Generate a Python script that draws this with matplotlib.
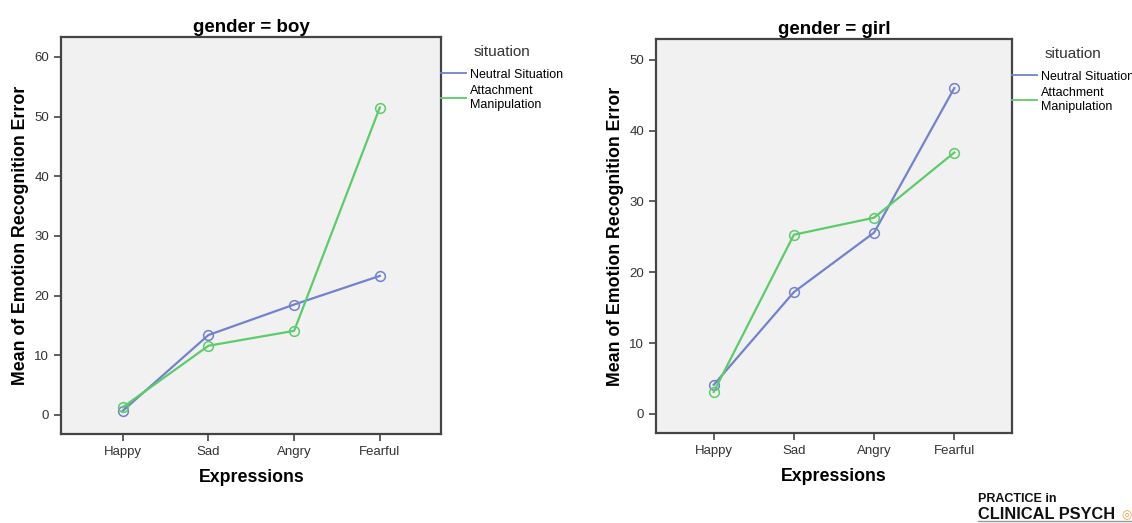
import matplotlib.pyplot as plt

plt.rcParams['font.family'] = ['Liberation Sans', 'DejaVu Sans']

expressions = ['Happy', 'Sad', 'Angry', 'Fearful']
situations = ['Neutral Situation', 'Attachment\nManipulation']

# means
boy_neutral = [0.7, 13.4, 18.5, 23.3]
boy_attach = [1.3, 11.6, 14.1, 51.5]
girl_neutral = [4.1, 17.2, 25.6, 46.0]
girl_attach = [3.1, 25.3, 27.7, 36.9]

blue = '#7282cc'
green = '#5ccc6a'

fig = plt.figure(figsize=(11.32, 5.23), dpi=100)
ax1 = fig.add_axes([0.054, 0.170, 0.336, 0.759])
ax2 = fig.add_axes([0.5795, 0.172, 0.3145, 0.753])


def draw_panel(ax, neutral, attach, title, ylim, yticks):
    x = list(range(len(expressions)))
    ax.plot(x, neutral, '-o', color=blue, lw=1.6, ms=7, mfc='none', mew=1.1,
            label=situations[0])
    ax.plot(x, attach, '-o', color=green, lw=1.6, ms=7, mfc='none', mew=1.1,
            label=situations[1])
    ax.set_facecolor('#f1f1f1')
    ax.set_xlim(-0.72, 3.72)
    ax.set_ylim(*ylim)
    ax.set_xticks(x)
    ax.set_xticklabels(expressions)
    ax.set_yticks(yticks)
    for s in ax.spines.values():
        s.set_color('#444444')
        s.set_linewidth(1.6)
    ax.tick_params(direction='out', length=5, width=1.2, color='#444444',
                   labelsize=9.5, labelcolor='#333333')
    ax.set_title(title, fontsize=13.5, fontweight='bold', pad=4)
    ax.set_xlabel('Expressions', fontsize=12.8, fontweight='bold', labelpad=8)
    ax.set_ylabel('Mean of Emotion Recognition Error', fontsize=12.8,
                  fontweight='bold', labelpad=4)
    leg = ax.legend(loc='upper left', bbox_to_anchor=(1.0, 0.98), frameon=False,
                    borderaxespad=0, borderpad=0, handlelength=2.0,
                    handletextpad=0.3, fontsize=9, title='situation',
                    title_fontsize=11, labelspacing=0.35)
    for h in leg.legend_handles:
        h.set_marker('')
        h.set_linewidth(1.3)
    leg.get_title().set_color('#333333')
    leg._legend_box.sep = 7


draw_panel(ax1, boy_neutral, boy_attach, 'gender = boy', (-3.2, 63.3), range(0, 61, 10))
draw_panel(ax2, girl_neutral, girl_attach, 'gender = girl', (-2.7, 52.9), range(0, 51, 10))

# watermark
fig.text(0.864, 0.040, 'PRACTICE in', fontsize=9, fontweight='bold', color='#111111')
fig.text(0.864, 0.008, 'CLINICAL PSYCH', fontsize=11.8, fontweight='bold', color='#111111')
fig.text(0.9955, 0.010, '\u25CE', fontsize=8.5, color='#f0a030', ha='center')
fig.add_artist(plt.Line2D([0.864, 1.0], [0.004, 0.004], color='#999999', lw=1))

fig.savefig('out.png', dpi=100)
